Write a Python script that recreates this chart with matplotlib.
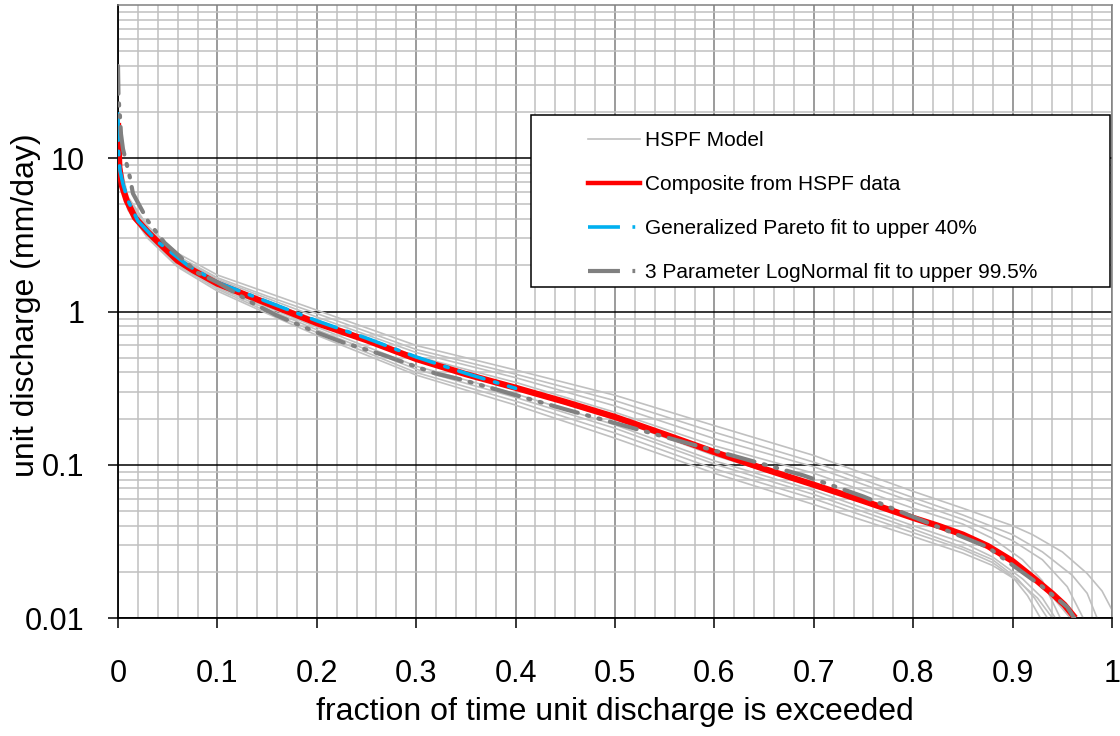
import matplotlib
matplotlib.use("Agg")
import matplotlib.pyplot as plt
from matplotlib.lines import Line2D
from matplotlib.patches import Rectangle
from matplotlib.ticker import FixedLocator, NullFormatter

plt.rcParams['font.family'] = ['Liberation Sans', 'DejaVu Sans']
plt.rcParams['lines.scale_dashes'] = False

# ---- HSPF model flow-duration curves (exceedance fraction, mm/day) ----
hspf_a_x = [0, 0.002, 0.01, 0.03, 0.06, 0.1, 0.15, 0.2, 0.3, 0.4, 0.5, 0.6, 0.7, 0.8, 0.85, 0.9, 0.92, 0.95, 0.975, 0.99, 1.0]
hspf_a_y = [22, 9.4, 5.6, 3.6, 2.4, 1.73, 1.33, 1.02, 0.60, 0.415, 0.284, 0.18, 0.115, 0.067, 0.052, 0.040, 0.035, 0.027, 0.0195, 0.015, 0.0113]
hspf_b_x = [0, 0.002, 0.01, 0.03, 0.06, 0.1, 0.15, 0.2, 0.3, 0.4, 0.5, 0.6, 0.7, 0.8, 0.85, 0.9, 0.93, 0.96, 0.975, 0.985]
hspf_b_y = [19, 8.8, 5.4, 3.5, 2.3, 1.66, 1.26, 0.97, 0.565, 0.39, 0.262, 0.163, 0.104, 0.061, 0.047, 0.035, 0.027, 0.019, 0.0145, 0.010]
hspf_c_x = [0, 0.002, 0.01, 0.03, 0.06, 0.1, 0.15, 0.2, 0.3, 0.4, 0.5, 0.6, 0.7, 0.8, 0.85, 0.9, 0.93, 0.955, 0.971]
hspf_c_y = [16, 8.5, 5.3, 3.45, 2.25, 1.62, 1.22, 0.92, 0.54, 0.37, 0.242, 0.148, 0.097, 0.057, 0.044, 0.032, 0.024, 0.016, 0.010]
hspf_d_x = [0, 0.002, 0.01, 0.03, 0.06, 0.1, 0.15, 0.2, 0.3, 0.4, 0.5, 0.6, 0.7, 0.8, 0.85, 0.88, 0.91, 0.93, 0.948]
hspf_d_y = [15, 8.0, 5.0, 3.3, 2.2, 1.56, 1.17, 0.88, 0.51, 0.345, 0.22, 0.133, 0.088, 0.052, 0.041, 0.033, 0.024, 0.0175, 0.010]
hspf_e_x = [0, 0.002, 0.01, 0.03, 0.06, 0.1, 0.15, 0.2, 0.3, 0.4, 0.5, 0.6, 0.7, 0.8, 0.85, 0.88, 0.91, 0.935, 0.958]
hspf_e_y = [20, 8.4, 5.2, 3.35, 2.2, 1.55, 1.14, 0.85, 0.48, 0.315, 0.198, 0.115, 0.073, 0.044, 0.034, 0.028, 0.021, 0.015, 0.010]
hspf_f_x = [0, 0.002, 0.01, 0.03, 0.06, 0.1, 0.15, 0.2, 0.3, 0.4, 0.5, 0.6, 0.7, 0.8, 0.85, 0.88, 0.91, 0.93, 0.943]
hspf_f_y = [14, 7.8, 4.9, 3.2, 2.1, 1.47, 1.07, 0.79, 0.44, 0.29, 0.182, 0.106, 0.068, 0.040, 0.031, 0.025, 0.018, 0.0135, 0.010]
hspf_g_x = [0, 0.002, 0.01, 0.03, 0.06, 0.1, 0.15, 0.2, 0.3, 0.4, 0.5, 0.6, 0.7, 0.8, 0.85, 0.88, 0.905, 0.922, 0.935]
hspf_g_y = [18, 7.6, 4.8, 3.15, 2.05, 1.43, 1.04, 0.76, 0.42, 0.275, 0.173, 0.101, 0.064, 0.038, 0.029, 0.024, 0.018, 0.0135, 0.010]
hspf_h_x = [0, 0.002, 0.01, 0.03, 0.06, 0.1, 0.15, 0.2, 0.3, 0.4, 0.5, 0.6, 0.7, 0.8, 0.85, 0.88, 0.9, 0.915, 0.928]
hspf_h_y = [13, 7.4, 4.7, 3.1, 2.0, 1.40, 1.00, 0.73, 0.40, 0.26, 0.161, 0.094, 0.060, 0.036, 0.028, 0.023, 0.0185, 0.014, 0.010]
hspf_i_x = [0, 0.002, 0.01, 0.03, 0.06, 0.1, 0.15, 0.2, 0.3, 0.4, 0.5, 0.6, 0.7, 0.8, 0.85, 0.88, 0.905, 0.925, 0.94]
hspf_i_y = [15, 7.2, 4.6, 3.0, 1.95, 1.36, 0.97, 0.70, 0.385, 0.245, 0.149, 0.088, 0.055, 0.034, 0.0265, 0.022, 0.0175, 0.0135, 0.010]

# ---- Composite curve from the HSPF runs ----
comp_x = [0, 0.0013, 0.004, 0.0087, 0.017, 0.03, 0.042, 0.06, 0.076, 0.1, 0.15, 0.2, 0.25, 0.3, 0.35,
          0.4, 0.45, 0.5, 0.55, 0.6, 0.65, 0.7, 0.75, 0.8, 0.825, 0.85, 0.875, 0.9, 0.92, 0.94, 0.952, 0.963]
comp_y = [17, 8.7, 6.6, 5.3, 4.1, 3.3, 2.77, 2.15, 1.85, 1.52, 1.13, 0.84, 0.65, 0.49, 0.39,
          0.318, 0.257, 0.205, 0.158, 0.121, 0.094, 0.074, 0.058, 0.045, 0.0400, 0.0350, 0.0295, 0.0235,
          0.0185, 0.0144, 0.0122, 0.010]

# ---- Generalized Pareto fit (upper 40%) ----
gp_x = [0, 0.0005, 0.002, 0.005, 0.01, 0.02, 0.04, 0.07, 0.1, 0.15, 0.2, 0.25, 0.3, 0.35, 0.4]
gp_y = [19.5, 11.2, 8.3, 6.8, 5.3, 3.9, 2.85, 2.0, 1.55, 1.16, 0.87, 0.67, 0.505, 0.395, 0.315]

# ---- 3-parameter LogNormal fit (upper 99.5%) ----
ln_x = [0, 0.0005, 0.002, 0.003, 0.005, 0.012, 0.015, 0.03, 0.047, 0.058, 0.08, 0.1, 0.136, 0.16, 0.2,
        0.226, 0.267, 0.29, 0.319, 0.345, 0.373, 0.4, 0.45, 0.49, 0.55, 0.62, 0.69, 0.75, 0.81, 0.875,
        0.93, 0.955, 0.962]
ln_y = [40, 25, 18.6, 14.4, 11.5, 7.5, 5.9, 3.9, 2.8, 2.42, 1.79, 1.55, 1.13, 0.94, 0.73,
        0.63, 0.52, 0.46, 0.395, 0.36, 0.32, 0.285, 0.23, 0.195, 0.152, 0.114, 0.085, 0.062, 0.043, 0.029,
        0.016, 0.0118, 0.010]

labels = ["HSPF Model", "Composite from HSPF data",
          "Generalized Pareto fit to upper 40%", "3 Parameter LogNormal fit to upper 99.5%"]

hspf_series = [(hspf_a_x, hspf_a_y), (hspf_b_x, hspf_b_y), (hspf_c_x, hspf_c_y),
               (hspf_d_x, hspf_d_y), (hspf_e_x, hspf_e_y), (hspf_f_x, hspf_f_y),
               (hspf_g_x, hspf_g_y), (hspf_h_x, hspf_h_y), (hspf_i_x, hspf_i_y)]

C_HSPF = "#c0c0c0"
C_RED = "#ff0000"
C_BLUE = "#00b0f0"
C_LN = "#808080"

fig = plt.figure(figsize=(11.2, 7.36), dpi=100)
ax = fig.add_axes([118 / 1120, 1 - 618 / 736, 994 / 1120, 613 / 736])

ax.set_xlim(0, 1)
ax.set_yscale("log")
ax.set_ylim(0.01, 100)

# grid and ticks
ax.xaxis.set_major_locator(FixedLocator([i / 10 for i in range(11)]))
ax.xaxis.set_minor_locator(FixedLocator([i / 50 for i in range(51) if i % 5]))
ax.yaxis.set_major_locator(FixedLocator([0.01, 0.1, 1, 10]))
ax.yaxis.set_minor_locator(FixedLocator([m * 10.0 ** e for e in range(-2, 2) for m in range(2, 10)]))
ax.yaxis.set_minor_formatter(NullFormatter())
ax.set_yticklabels(["0.01", "0.1", "1", "10"])
ax.set_xticklabels(["0", "0.1", "0.2", "0.3", "0.4", "0.5", "0.6", "0.7", "0.8", "0.9", "1"])

ax.grid(which="minor", axis="both", color="#c0c0c0", linewidth=1.1, zorder=0)
ax.grid(which="major", axis="x", color="#808080", linewidth=1.1, zorder=0)
ax.grid(which="major", axis="y", color="#000000", linewidth=1.1, zorder=0)
ax.set_axisbelow(True)

ax.tick_params(which="major", direction="out", length=7.2, width=1.1, labelsize=22, color="black")
ax.tick_params(which="minor", length=0)
ax.tick_params(axis="x", pad=22)
ax.tick_params(axis="y", pad=17)

for side in ("top", "right"):
    ax.spines[side].set_color("#808080")
    ax.spines[side].set_linewidth(1.1)
for side in ("left", "bottom"):
    ax.spines[side].set_color("black")
    ax.spines[side].set_linewidth(1.3)

# curves
for hx, hy in hspf_series:
    ax.plot(hx, hy, color=C_HSPF, linewidth=1.2, zorder=2)
ax.plot(comp_x, comp_y, color=C_RED, linewidth=4.5, solid_capstyle="butt", zorder=3)
ax.plot(gp_x, gp_y, color=C_BLUE, linewidth=2.6, dashes=(19, 8, 2.5, 8), dash_capstyle="round", zorder=4)
ax.plot(ln_x, ln_y, color=C_LN, linewidth=3.0, dashes=(20, 7, 1.5, 7, 1.5, 7), dash_capstyle="round", zorder=4)

ax.set_xlabel("fraction of time unit discharge is exceeded", fontsize=23, labelpad=6)
ax.set_ylabel("unit discharge (mm/day)", fontsize=23)
ax.yaxis.set_label_coords(-0.077, 0.51)

# legend box
box = Rectangle(((531 - 118) / 994, (618 - 287) / 613), (1110 - 531) / 994, (287 - 115) / 613,
                transform=ax.transAxes, facecolor="white", edgecolor="black", linewidth=1.1, zorder=5)
ax.add_patch(box)

handles = [
    Line2D([], [], color=C_HSPF, linewidth=1.2),
    Line2D([], [], color=C_RED, linewidth=3.2),
    Line2D([], [], color=C_BLUE, linewidth=2.6, dashes=(23, 9, 2, 30), dash_capstyle="butt"),
    Line2D([], [], color=C_LN, linewidth=3.0, dashes=(23, 9, 2, 30), dash_capstyle="butt"),
]
leg = ax.legend(handles, labels, loc="upper left", bbox_to_anchor=((588 - 118) / 994, (618 - 131) / 613),
                frameon=False, fontsize=15, handlelength=2.5, handletextpad=0.25, labelspacing=1.2,
                borderpad=0, borderaxespad=0)
leg.set_zorder(6)

fig.savefig("out.png", dpi=100)
